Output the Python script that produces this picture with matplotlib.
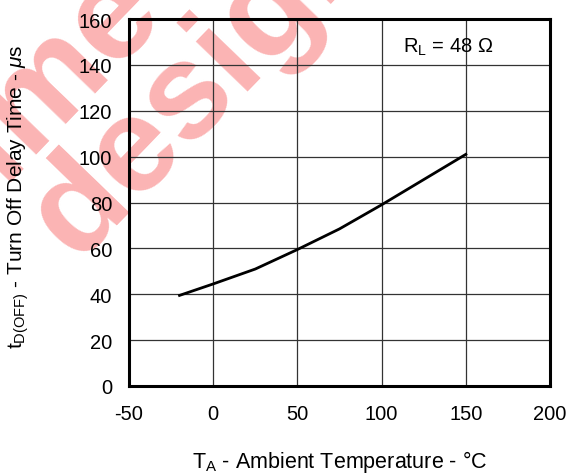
import numpy as np
import matplotlib
matplotlib.use("Agg")
import matplotlib.pyplot as plt

plt.rcParams.update({
    "font.family": "Liberation Sans",
    "mathtext.fontset": "custom",
    "mathtext.rm": "Liberation Sans",
    "mathtext.it": "Liberation Sans:italic",
    "axes.unicode_minus": False,
})

# Turn-off delay vs ambient temperature, RL = 48 ohm
temp_c = [-20, 0, 25, 50, 75, 100, 125, 150]
t_off_us = [39.5, 44.5, 51, 59.5, 68.5, 79, 90, 101]

x_ticks = [-50, 0, 50, 100, 150, 200]
y_ticks = [0, 20, 40, 60, 80, 100, 120, 140, 160]

fig = plt.figure(figsize=(5.8, 4.77), dpi=100)
ax = fig.add_axes([0.2224, 0.1887, 0.7259, 0.7693])
ax.patch.set_alpha(0)

# red watermark behind the grid
wm = dict(fontsize=98, fontweight="bold", color="#fbb4b4", rotation=46,
          rotation_mode="anchor", va="baseline", zorder=-5)
fig.text(77 / 580, 1 - 262 / 477, "design", ha="left", **wm)
fig.text(165 / 580, 1 - 12 / 477, "Prime", ha="right", **wm)

ax.plot(temp_c, t_off_us, color="black", lw=2.0, zorder=3)

ax.set_xlim(-50, 200)
ax.set_ylim(0, 160)
ax.set_xticks(x_ticks)
ax.set_yticks(y_ticks)
ax.grid(True, color="#333333", lw=0.9)
ax.tick_params(length=0, labelsize=14.5)
ax.tick_params(axis="y", pad=12)
ax.tick_params(axis="x", pad=13)
for s in ax.spines.values():
    s.set_linewidth(2.2)
    s.set_color("black")

ax.text(0.652, 0.925, r"R$_\mathrm{L}$ = 48 $\Omega$", transform=ax.transAxes,
        fontsize=14.5, va="center", ha="left")

ax.set_xlabel(r"T$_\mathrm{A}$ - Ambient Temperature - °C", fontsize=15.5)
ax.set_ylabel(r"t$_\mathrm{D(OFF)}$ - Turn Off Delay Time - $\mu$s", fontsize=15)
ax.xaxis.set_label_coords(0.5, -0.17)
ax.yaxis.set_label_coords(-0.232, 0.518)

fig.savefig("out.png", dpi=100)
